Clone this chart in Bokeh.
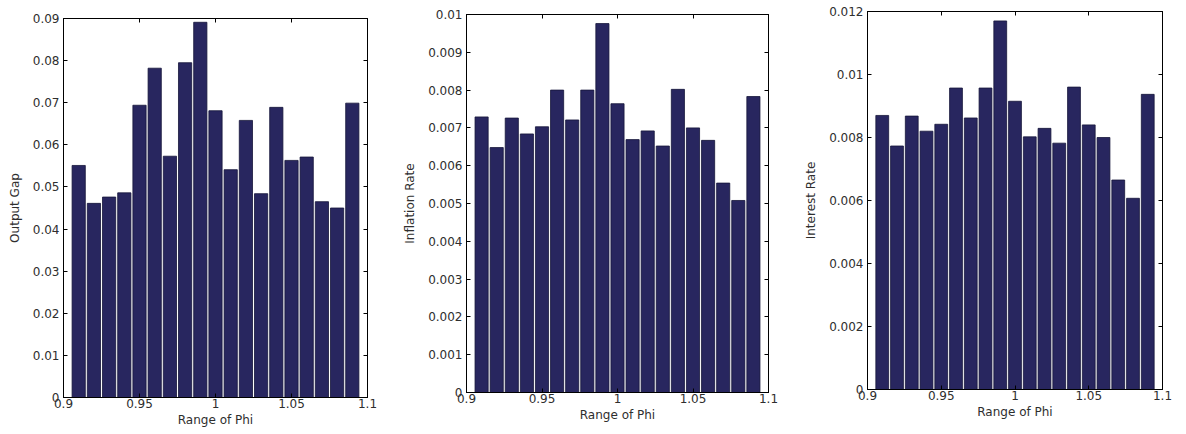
from bokeh.plotting import figure
from bokeh.layouts import row, column
from bokeh.models import Range1d, FixedTicker, LinearAxis
from bokeh.embed import file_html
from bokeh.resources import INLINE

# Data
phi = [0.91, 0.92, 0.93, 0.94, 0.95, 0.96, 0.97, 0.98, 0.99, 1.00,
       1.01, 1.02, 1.03, 1.04, 1.05, 1.06, 1.07, 1.08, 1.09]
output_gap = [0.0551, 0.0461, 0.0476, 0.0486, 0.0694, 0.0782, 0.0573, 0.0795, 0.0891, 0.0681,
              0.0541, 0.0658, 0.0484, 0.0689, 0.0563, 0.0571, 0.0465, 0.0450, 0.0699]
inflation = [0.00729, 0.00648, 0.00726, 0.00684, 0.00703, 0.00800, 0.00721, 0.00800, 0.00976, 0.00764,
             0.00669, 0.00692, 0.00652, 0.00802, 0.00700, 0.00667, 0.00554, 0.00508, 0.00783]
interest = [0.00870, 0.00773, 0.00868, 0.00820, 0.00842, 0.00957, 0.00862, 0.00957, 0.01170, 0.00915,
            0.00802, 0.00829, 0.00782, 0.00960, 0.00840, 0.00800, 0.00665, 0.00607, 0.00937]

x_ticks = [0.9, 0.95, 1.0, 1.05, 1.1]
y_ticks_1 = [0.0, 0.01, 0.02, 0.03, 0.04, 0.05, 0.06, 0.07, 0.08, 0.09]
y_ticks_2 = [0.0, 0.001, 0.002, 0.003, 0.004, 0.005, 0.006, 0.007, 0.008, 0.009, 0.01]
y_ticks_3 = [0.0, 0.002, 0.004, 0.006, 0.008, 0.01, 0.012]

BAR_COLOR = "#28265f"
TEXT_COLOR = "#2e2e2e"
FONT = "DejaVu Sans"


def style_axis(ax, ticks, show_labels):
    ax.ticker = FixedTicker(ticks=ticks)
    ax.major_tick_in = 4
    ax.major_tick_out = 0
    ax.minor_tick_in = 0
    ax.minor_tick_out = 0
    ax.axis_line_color = "black"
    ax.major_tick_line_color = "black"
    ax.axis_label_text_font = FONT
    ax.axis_label_text_font_style = "normal"
    ax.axis_label_text_color = TEXT_COLOR
    ax.axis_label_text_font_size = "12px"
    if show_labels:
        ax.major_label_overrides = {t: f"{t:g}" for t in ticks}
        ax.major_label_text_font = FONT
        ax.major_label_text_color = TEXT_COLOR
        ax.major_label_text_font_size = "12px"
        ax.major_label_standoff = 4
    else:
        ax.major_label_text_color = None
        ax.major_label_text_font_size = "1px"
        ax.major_label_standoff = 0
        ax.axis_label_standoff = 0


def panel(values, ymax, yticks, ylabel, width, height, bl, br, bt, bb):
    p = figure(width=width, height=height, output_backend="svg", toolbar_location=None,
               x_range=Range1d(0.9, 1.1), y_range=Range1d(0, ymax),
               min_border_left=bl, min_border_right=br, min_border_top=bt, min_border_bottom=bb)
    p.vbar(x=phi, top=values, width=0.0087, bottom=0,
           fill_color=BAR_COLOR, line_color="#15153a", line_width=0.8)
    p.xgrid.visible = False
    p.ygrid.visible = False
    p.outline_line_color = "black"
    p.background_fill_color = "white"
    p.border_fill_color = "white"
    p.xaxis.axis_label = "Range of Phi"
    p.yaxis.axis_label = ylabel
    style_axis(p.xaxis[0], x_ticks, True)
    style_axis(p.yaxis[0], yticks, True)
    p.xaxis[0].major_label_standoff = 1
    p.xaxis[0].axis_label_standoff = 2
    p.yaxis[0].axis_label_standoff = 8
    top_ax = LinearAxis()
    right_ax = LinearAxis()
    style_axis(top_ax, x_ticks, False)
    style_axis(right_ax, yticks, False)
    p.add_layout(top_ax, "above")
    p.add_layout(right_ax, "right")
    return p


p1 = panel(output_gap, 0.09, y_ticks_1, "Output Gap", 400, 434, 63, 33, 18, 37)
p2 = panel(inflation, 0.01, y_ticks_2, "Inflation Rate", 400, 434, 63, 32, 14, 42)
p3 = panel(interest, 0.012, y_ticks_3, "Interest Rate", 386, 434, 67, 24, 11, 45)

layout = row(column(p1), column(p2), column(p3))
open("out.html", "w").write(file_html(layout, INLINE))
